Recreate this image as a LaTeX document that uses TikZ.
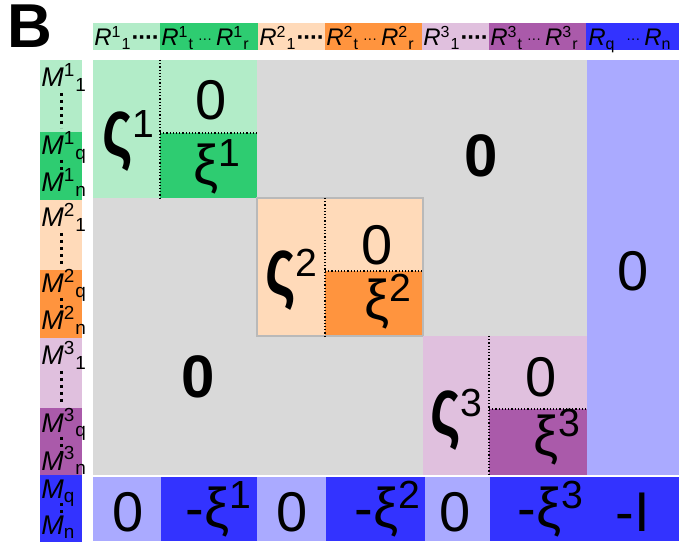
\documentclass[tikz,border=0pt]{standalone}
\usepackage{fontspec}
\setmainfont{Liberation Sans}
\usepackage{graphicx}
\usepackage{tikz}
\definecolor{lgreen}{RGB}{178,236,200}
\definecolor{dgreen}{RGB}{46,204,113}
\definecolor{lorange}{RGB}{255,218,185}
\definecolor{dorange}{RGB}{255,148,62}
\definecolor{lpurple}{RGB}{224,192,222}
\definecolor{dpurple}{RGB}{170,90,170}
\definecolor{lblue}{RGB}{170,170,255}
\definecolor{dblue}{RGB}{51,51,255}
\definecolor{matgray}{RGB}{217,217,217}
\newcommand{\Rsup}[2]{\textit{R}\textsuperscript{#1}\textsubscript{#2}}
\newcommand{\Msup}[2]{\textit{M}\textsuperscript{#1}\textsubscript{#2}}
\newcommand{\smdots}{\,{\scriptsize\raisebox{1pt}{···}}\,}
\newcommand{\bgdots}{\textbf{·\kern-0.6pt·\kern-0.6pt·\kern-0.6pt·}}
\newcommand{\sig}[1]{\scalebox{1.05}[1.45]{\bfseries ς}\textsuperscript{#1}}

\begin{document}
\begin{tikzpicture}[x=0.5pt,y=-0.5pt,
  hdr/.style={anchor=base west,inner sep=0pt,font=\fontsize{12}{12}\selectfont},
  mlab/.style={anchor=base west,inner sep=0pt,font=\fontsize{13.5}{13.5}\selectfont},
  big/.style={anchor=base,inner sep=0pt,font=\fontsize{28}{28}\selectfont},
  bigb/.style={anchor=base,inner sep=0pt,font=\fontsize{30}{30}\selectfont\bfseries},
  sigl/.style={anchor=base west,inner sep=0pt,font=\fontsize{28}{28}\selectfont},
  vdots/.style={line width=1.5pt,dash pattern=on 1.5pt off 2pt},
  split/.style={densely dotted,line width=0.6pt}]
\useasboundingbox (0,0) rectangle (679,544);
\fill[white] (0,0) rectangle (679,544);
\node[anchor=base west,inner sep=0pt,font=\fontsize{31}{31}\selectfont\bfseries] (lbl) at (7,48) {B};
% header row
\fill[lgreen] (93,23) rectangle (160,50);
\fill[dgreen] (160,23) rectangle (258,50);
\fill[lorange] (258,23) rectangle (325,50);
\fill[dorange] (325,23) rectangle (422,50);
\fill[lpurple] (422,23) rectangle (489,50);
\fill[dpurple] (489,23) rectangle (586,50);
\fill[dblue] (586,23) rectangle (679,50);
\node[hdr] (r11) at (94,46) {\Rsup11\bgdots};
\node[hdr] (r1t) at (161,46) {\Rsup1t\smdots\Rsup1r};
\node[hdr] (r21) at (259,46) {\Rsup21\bgdots};
\node[hdr] (r2t) at (326,46) {\Rsup2t\smdots\Rsup2r};
\node[hdr] (r31) at (423,46) {\Rsup31\bgdots};
\node[hdr] (r3t) at (490,46) {\Rsup3t\smdots\Rsup3r};
\node[hdr] (rq) at (588,46) {\textit{R}\textsubscript{q}\ \smdots\textit{R}\textsubscript{n}};
% left column
\fill[lgreen] (40,60) rectangle (82,132);
\fill[dgreen] (40,132) rectangle (82,200);
\fill[lorange] (40,200) rectangle (82,270);
\fill[dorange] (40,270) rectangle (82,338);
\fill[lpurple] (40,338) rectangle (82,408);
\fill[dpurple] (40,408) rectangle (82,475);
\fill[dblue] (40,475) rectangle (82,542);
\node[mlab] (m11) at (41,87) {\Msup11};
\node[mlab] (m1q) at (41,155) {\Msup1q};
\node[mlab] (m1n) at (41,192) {\Msup1n};
\node[mlab] (m21) at (41,227) {\Msup21};
\node[mlab] (m2q) at (41,293) {\Msup2q};
\node[mlab] (m2n) at (41,330) {\Msup2n};
\node[mlab] (m31) at (41,365) {\Msup31};
\node[mlab] (m3q) at (41,432) {\Msup3q};
\node[mlab] (m3n) at (41,470) {\Msup3n};
\node[mlab] (mq) at (41,498) {\textit{M}\textsubscript{q}};
\node[mlab] (mn) at (41,534) {\textit{M}\textsubscript{n}};
\draw[vdots] (61,93) -- (61,128);
\draw[vdots] (61,160) -- (61,174);
\draw[vdots] (61,233) -- (61,266);
\draw[vdots] (61,298) -- (61,312);
\draw[vdots] (61,371) -- (61,404);
\draw[vdots] (61,437) -- (61,452);
\draw[vdots] (61,503) -- (61,517);
% matrix body
\fill[matgray] (93,60) rectangle (587,475);
\fill[lblue] (587,60) rectangle (679,475);
\fill[lgreen] (93,60) rectangle (257,198);
\fill[dgreen] (160,133) rectangle (257,198);
\fill[lorange] (257,198) rectangle (423,336);
\fill[dorange] (325,271) rectangle (423,336);
\draw[gray!55,line width=0.6pt] (257,198) rectangle (423,336);
\fill[lpurple] (423,336) rectangle (587,475);
\fill[dpurple] (489,409) rectangle (587,475);
\draw[split] (160,60) -- (160,198);
\draw[split] (160,133) -- (257,133);
\draw[split] (325,198) -- (325,336);
\draw[split] (325,271) -- (423,271);
\draw[split] (489,336) -- (489,475);
\draw[split] (489,409) -- (587,409);
\node[sigl] (s1) at (102,156) {\sig1};
\node[big] (z1) at (211,120) {0};
\node[big] (x1) at (217,185) {ξ\textsuperscript{1}};
\node[sigl] (s2) at (265,295) {\sig2};
\node[big] (z2) at (377,265) {0};
\node[big] (x2) at (388,320) {ξ\textsuperscript{2}};
\node[sigl] (s3) at (430,435) {\sig3};
\node[big] (z3) at (541,397) {0};
\node[big] (x3) at (557,455) {ξ\textsuperscript{3}};
\node[bigb] (zu) at (481,177) {0};
\node[bigb] (zl) at (198,398) {0};
\node[big] (zr) at (633,291) {0};
% bottom row
\fill[lblue] (93,477) rectangle (161,541);
\fill[dblue] (161,477) rectangle (257,541);
\fill[lblue] (257,477) rectangle (326,541);
\fill[dblue] (326,477) rectangle (425,541);
\fill[lblue] (425,477) rectangle (490,541);
\fill[dblue] (490,477) rectangle (679,541);
\node[big] (b1) at (128,531) {0};
\node[big] (bx1) at (219,527) {-ξ\textsuperscript{1}};
\node[big] (b2) at (292,531) {0};
\node[big] (bx2) at (388,527) {-ξ\textsuperscript{2}};
\node[big] (b3) at (455,531) {0};
\node[big] (bx3) at (551,527) {-ξ\textsuperscript{3}};
\node[big] (bi) at (633,531) {-I};
\end{tikzpicture}
\end{document}
